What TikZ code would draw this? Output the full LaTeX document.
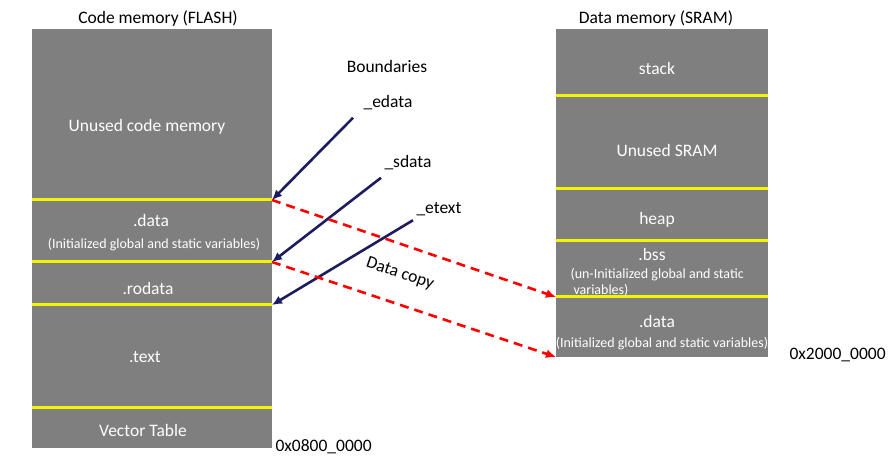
\documentclass[tikz,border=0pt]{standalone}
\usepackage{fontspec}
\setmainfont{Carlito}
\usetikzlibrary{arrows.meta}

\begin{document}
\begin{tikzpicture}[
x=1pt, y=1pt,
mem/.style={fill=memgray, draw=none},
bound/.style={line width=3pt, boundyellow},
txt/.style={white, font=\fontsize{17.5}{20}\selectfont},
smalltxt/.style={white, font=\fontsize{14}{16}\selectfont},
title/.style={black, font=\fontsize{17.5}{20}\selectfont},
ptr/.style={line width=2.6pt, navy, -{Latex[length=10pt, width=9pt]}},
copyline/.style={line width=2.6pt, red, dash pattern=on 9pt off 6pt, -{Latex[length=10pt, width=9pt]}}
]
\definecolor{memgray}{HTML}{7F7F7F}
\definecolor{navy}{HTML}{1C1C5E}
\definecolor{boundyellow}{HTML}{F4F400}

\useasboundingbox (0,0) rectangle (895,464);

%%%% CODE MEMORY (FLASH)

\fill[mem] (32,16) rectangle (272,435);
\path (158,445) node[title](flash){Code memory (FLASH)};

\draw[bound] (32,264)coordinate(F1)--(272,264)coordinate(edata);
\draw[bound] (32,202)coordinate(F2)--(272,202)coordinate(sdata);
\draw[bound] (32,159)coordinate(F3)--(272,159)coordinate(etext);
\draw[bound] (32,57)coordinate(F4)--(272,57)coordinate(F5);

\path (147,337) node[txt](unusedcode){Unused code memory};
\path (151,244) node[txt](fdata){.data};
\path (154,219) node[smalltxt](fdatainfo){(Initialized global and static variables)};
\path (148,176) node[txt](rodata){.rodata};
\path (145,107) node[txt](text){.text};
\path (143,34) node[txt](vector){Vector Table};

\path (272,17) node[right, title](flashaddr){0x0800\_0000};

%%%% DATA MEMORY (SRAM)

\fill[mem] (556,107) rectangle (768,435);
\path (656,445) node[title](sram){Data memory (SRAM)};

\draw[bound] (556,368)--(768,368);
\draw[bound] (556,275)--(768,275);
\draw[bound] (556,223)--(768,223);
\draw[bound] (556,167)coordinate(bssend)--(768,167);
\coordinate (sramstart) at (556,107);

\path (657,396) node[txt](stack){stack};
\path (667,314) node[txt](unusedsram){Unused SRAM};
\path (657,244) node[txt](heap){heap};
\path (652,210) node[txt](bss){.bss};
\path (567,182) node[right, smalltxt, align=left](bssinfo){(un-Initialized global and static\\\hspace{3pt}variables)};
\path (657,143) node[txt](sdata2){.data};
\path (662,120) node[smalltxt](sdatainfo){(Initialized global and static variables)};

\path (786,109) node[right, title](sramaddr){0x2000\_0000};

%% BOUNDARIES

\path (387,398) node[title](boundaries){Boundaries};
\path (388,361) node[title](edatalbl){\_edata};
\path (408,301) node[title](sdatalbl){\_sdata};
\path (439,255) node[title](etextlbl){\_etext};

\draw[ptr] (edatalbl.south west)++(-7,-4)--(edata);
\draw[ptr] (sdatalbl.south west)++(0,-4)--(sdata);
\draw[ptr] (etextlbl.south west)++(0,-1)--(etext);

%% DATA COPY

\draw[copyline] (edata)--(bssend);
\draw[copyline] (sdata)--(sramstart);
\path (400,190) node[title, rotate=-19](copy){Data copy};

\end{tikzpicture}
\end{document}
